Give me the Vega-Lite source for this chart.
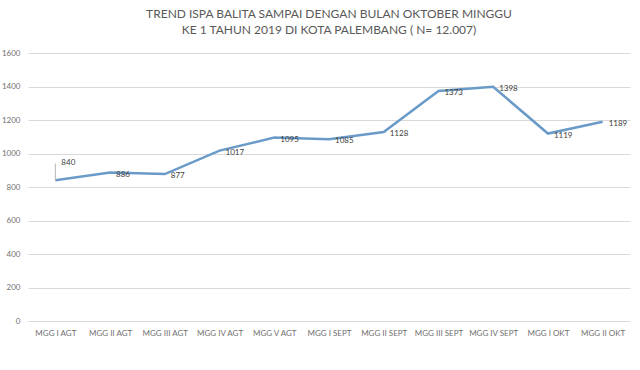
{
  "$schema": "https://vega.github.io/schema/vega-lite/v6.json",
  "width": 602,
  "height": 268,
  "autosize": "none",
  "padding": {"left": 28, "top": 53, "right": 10, "bottom": 49},
  "background": "white",
  "config": {
    "view": {"stroke": null},
    "font": "Lato"
  },
  "title": {
    "text": ["TREND ISPA BALITA SAMPAI DENGAN BULAN OKTOBER MINGGU", "KE 1 TAHUN 2019 DI KOTA PALEMBANG ( N= 12.007)"],
    "fontSize": 12,
    "fontWeight": "normal",
    "color": "#595959",
    "lineHeight": 16,
    "offset": 12,
    "anchor": "middle",
    "font": "Lato"
  },
  "data": {
    "values": [
      {"minggu": "MGG I AGT", "jumlah": 840},
      {"minggu": "MGG II AGT", "jumlah": 886},
      {"minggu": "MGG III AGT", "jumlah": 877},
      {"minggu": "MGG IV AGT", "jumlah": 1017},
      {"minggu": "MGG V AGT", "jumlah": 1095},
      {"minggu": "MGG I SEPT", "jumlah": 1085},
      {"minggu": "MGG II SEPT", "jumlah": 1128},
      {"minggu": "MGG III SEPT", "jumlah": 1373},
      {"minggu": "MGG IV SEPT", "jumlah": 1398},
      {"minggu": "MGG I OKT", "jumlah": 1119},
      {"minggu": "MGG II OKT", "jumlah": 1189}
    ]
  },
  "encoding": {
    "x": {
      "field": "minggu",
      "type": "nominal",
      "sort": null,
      "scale": {"type": "point", "padding": 0.5},
      "axis": {
        "title": null,
        "labelAngle": 0,
        "labelFontSize": 8,
        "labelColor": "#707070",
        "labelPadding": 8,
        "ticks": false,
        "domain": false,
        "grid": false
      }
    },
    "y": {
      "field": "jumlah",
      "type": "quantitative",
      "scale": {"domain": [0, 1600]},
      "axis": {
        "title": null,
        "format": "d",
        "values": [0, 200, 400, 600, 800, 1000, 1200, 1400, 1600],
        "labelFontSize": 8,
        "labelColor": "#707070",
        "labelPadding": 8,
        "ticks": false,
        "domain": false,
        "gridColor": "#D9D9D9",
        "gridWidth": 1
      }
    }
  },
  "layer": [
    {
      "mark": {"type": "line", "color": "#6A9BC8", "strokeWidth": 2.5}
    },
    {
      "transform": [{"filter": "datum.jumlah != 840"}],
      "mark": {"type": "text", "align": "left", "baseline": "middle", "dx": 6, "dy": 2, "fontSize": 8, "color": "#404040"},
      "encoding": {"text": {"field": "jumlah", "type": "quantitative"}}
    },
    {
      "transform": [{"filter": "datum.jumlah == 840"}],
      "mark": {"type": "text", "align": "left", "baseline": "middle", "dx": 6, "dy": -17, "fontSize": 8, "color": "#404040"},
      "encoding": {"text": {"field": "jumlah", "type": "quantitative"}}
    },
    {
      "transform": [{"filter": "datum.jumlah == 840"}],
      "mark": {"type": "rule", "color": "#A6A6A6", "strokeWidth": 0.8},
      "encoding": {"y2": {"datum": 940}}
    }
  ]
}
